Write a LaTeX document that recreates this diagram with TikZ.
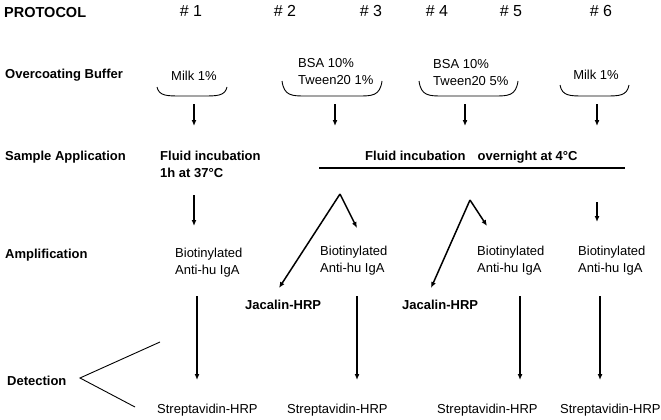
\documentclass[tikz,border=0pt]{standalone}
\usepackage{fontspec}
\setmainfont{Liberation Sans}
\usepackage{tikz}
\usetikzlibrary{arrows.meta,positioning}

\tikzset{
    txt/.style={inner sep=0pt, anchor=base west, font=\fontsize{13}{17}\selectfont},
    btxt/.style={txt, font=\fontsize{13}{17}\selectfont\bfseries},
    twoline/.style={inner sep=0pt, anchor=north west, align=left},
    arr/.style={line width=1.5pt, -{Latex[length=6pt,width=5pt]}},
    brace/.style={line width=0.9pt},
}

\begin{document}
\begin{tikzpicture}[x=1pt,y=-1pt]
    \useasboundingbox (0,0) rectangle (661,420);

    % Header
    \node[btxt, font=\fontsize{14.5}{17}\selectfont\bfseries] (protocol) at (4,18) {PROTOCOL};
    \foreach \x/\n in {191/1, 285/2, 371/3, 437/4, 511/5, 601/6}
        \node[txt, anchor=base, font=\fontsize{16}{19}\selectfont] (num\n) at (\x,17) {\# \n};

    % Row labels
    \node[btxt] (lblBuffer) at (5,78) {Overcoating Buffer};
    \node[btxt] (lblSample) at (5,160) {Sample Application};
    \node[btxt] (lblAmp) at (5,258) {Amplification};
    \node[btxt] (lblDetect) at (7,385) {Detection};

    % Overcoating buffers
    \node[txt, anchor=base] (bufA) at (194,81) {Milk 1\%};
    \node[twoline, font=\fontsize{13}{17}\selectfont] (bufB) at (298,58.5) {BSA 10\%\\Tween20 1\%};
    \node[twoline, font=\fontsize{13}{17}\selectfont] (bufC) at (433,59) {BSA 10\%\\Tween20 5\%};
    \node[txt, anchor=base] (bufD) at (596,80) {Milk 1\%};
    \foreach \a/\b/\t in {157/227/87, 282/382/81, 419/518/81, 560/629/85}
        \draw[brace] (\a,\t) .. controls (\a+2,96) and (\a+10,96) .. (\a+24,96)
            -- (\b-24,96) .. controls (\b-10,96) and (\b-2,96) .. (\b,\t);
    \foreach \x/\n in {194/A, 335/B, 465/C, 597/D}
        \draw[arr] (\x,104) coordinate (bufTop\n) -- (\x,126) coordinate (bufBot\n);

    % Sample application
    \node[twoline, font=\fontsize{13}{17}\selectfont\bfseries] (incA) at (160,150.5) {Fluid incubation\\1h at 37\textdegree C};
    \node[btxt] (incB) at (365,160) {Fluid incubation\hspace*{8.5pt} overnight at 4\textdegree C};
    \coordinate (lineL) at (319,168);
    \coordinate (lineR) at (625,168);
    \draw[line width=1.2pt] (lineL) -- (lineR);

    % Amplification
    \node[twoline, font=\fontsize{13}{17}\selectfont] (bioA) at (175,247.5) {Biotinylated\\Anti-hu IgA};
    \node[twoline, font=\fontsize{13}{17}\selectfont] (bioB) at (320,245.5) {Biotinylated\\Anti-hu IgA};
    \node[twoline, font=\fontsize{13}{17}\selectfont] (bioC) at (477,245.5) {Biotinylated\\Anti-hu IgA};
    \node[twoline, font=\fontsize{13}{17}\selectfont] (bioD) at (578,245.5) {Biotinylated\\Anti-hu IgA};
    \node[btxt] (jacA) at (245,309) {Jacalin-HRP};
    \node[btxt] (jacB) at (402,309) {Jacalin-HRP};

    \draw[arr] (194,195) coordinate (incBotA) -- (194,226) coordinate (bioTopA);
    \draw[arr] (597,202) coordinate (incBotD) -- (597,222) coordinate (bioTopD);

    % Split arrows
    \coordinate (peakB) at (340,194);
    \coordinate (tipJacA) at (279,288);
    \coordinate (tipBioB) at (357,228);
    \coordinate (peakC) at (470,200);
    \coordinate (tipJacB) at (431,288);
    \coordinate (tipBioC) at (487,226);
    \draw[arr] (peakB) -- (tipJacA);
    \draw[arr] (peakB) -- (tipBioB);
    \draw[arr] (peakC) -- (tipJacB);
    \draw[arr] (peakC) -- (tipBioC);

    % Detection
    \node[txt] (strA) at (157,413) {Streptavidin-HRP};
    \node[txt] (strB) at (287,413) {Streptavidin-HRP};
    \node[txt] (strC) at (437,413) {Streptavidin-HRP};
    \node[txt] (strD) at (560,413) {Streptavidin-HRP};
    \foreach \x/\n in {197/A, 357/B, 520/C, 600/D}
        \draw[arr] (\x,296) coordinate (detTop\n) -- (\x,380) coordinate (detBot\n);

    \coordinate (detVertex) at (80,378);
    \coordinate (detUp) at (160,342);
    \coordinate (detLow) at (135,407);
    \draw[line width=0.9pt] (detUp) -- (detVertex) -- (detLow);

\end{tikzpicture}
\end{document}
